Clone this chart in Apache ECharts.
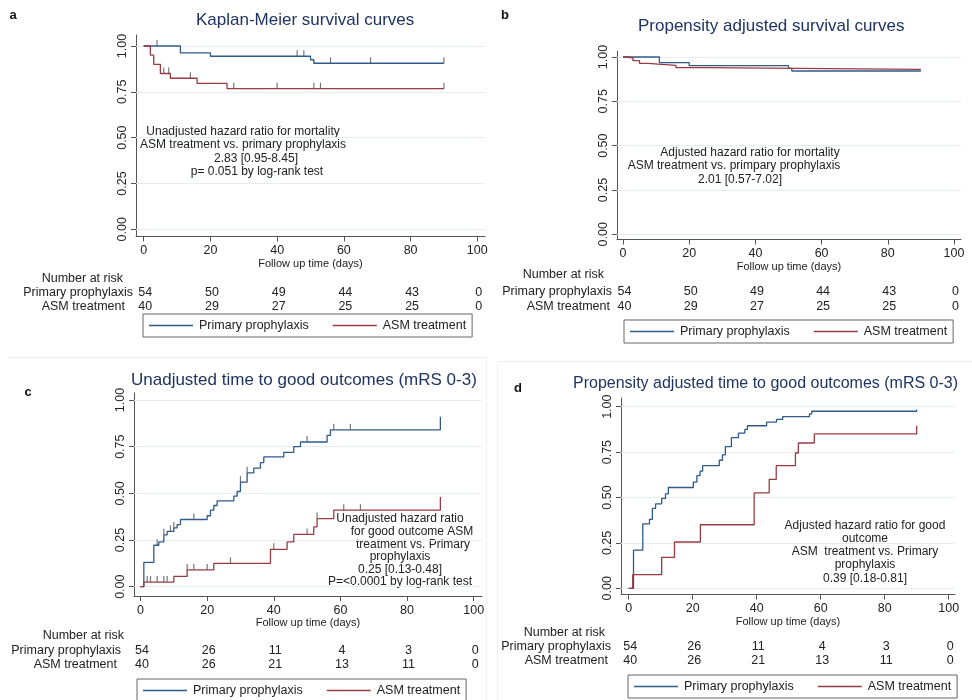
<!DOCTYPE html>
<html><head><meta charset="utf-8">
<script src="https://cdn.jsdelivr.net/npm/echarts@6/dist/echarts.min.js"></script>
<style>html,body{margin:0;padding:0;background:#fff}#c{width:972px;height:700px}</style>
</head><body><div id="c"></div>
<script>
// ---------------- DATA ----------------
const seriesNames = ['Primary prophylaxis', 'ASM treatment'];
const xTickDays = [0, 20, 40, 60, 80, 100];
const yTickVals = [0, 0.25, 0.5, 0.75, 1];
const riskTimes = [0, 20, 40, 60, 80, 100];

// a: Kaplan-Meier survival
const aPrimT = [0, 11, 20, 50, 51, 90];
const aPrimS = [1, 0.963, 0.944, 0.925, 0.906, 0.906];
const aPrimCens = [4, 46, 48, 56, 68, 90];
const aAsmT = [0, 2, 3, 5, 8, 16, 25, 90];
const aAsmS = [1, 0.95, 0.90, 0.85, 0.824, 0.796, 0.767, 0.767];
const aAsmCens = [6, 7.5, 14, 27, 40, 51, 53, 90];

// b: propensity adjusted survival
const bPrimT = [0, 11, 20, 50, 51, 90];
const bPrimS = [1, 0.968, 0.951, 0.936, 0.921, 0.921];
const bAsmT = [0, 1.5, 3, 5, 7.5, 16, 25, 90];
const bAsmS = [1, 0.993, 0.979, 0.964, 0.953, 0.940, 0.930, 0.930];

// c: unadjusted time to good outcome
const cPrimT = [0, 1, 4, 5.5, 7, 8, 10, 11, 12, 20, 21, 22, 23, 28, 29, 30, 32, 34, 36, 37, 43, 46, 48, 56, 57, 90, 90];
const cPrimS = [0, 0.13, 0.222, 0.24, 0.278, 0.296, 0.315, 0.333, 0.36, 0.38, 0.41, 0.435, 0.46, 0.485, 0.51, 0.56, 0.61, 0.635, 0.665, 0.695, 0.72, 0.75, 0.775, 0.81, 0.84, 0.84, 0.91];
const cPrimCens = [5, 7, 9, 10, 16, 30, 32, 50, 58, 63];
const cAsmT = [0, 1, 10, 14, 22, 39, 44, 46, 52, 53, 58, 90, 90];
const cAsmS = [0, 0.025, 0.055, 0.09, 0.125, 0.20, 0.24, 0.28, 0.32, 0.365, 0.41, 0.41, 0.48];
const cAsmCens = [2, 3, 5, 7, 8, 14, 16, 20, 27, 40, 50, 53, 61, 66];

// d: propensity adjusted time to good outcome
const dPrimT = [0, 1.5, 4.4, 6.5, 7.4, 8.4, 10.3, 11.5, 12.4, 20.2, 21.3, 22.3, 23.1, 28.3, 29.3, 30.2, 32.1, 34.3, 36.3, 37.1, 43.1, 46.2, 48.1, 56.5, 57.2, 90, 90];
const dPrimS = [0, 0.21, 0.355, 0.38, 0.44, 0.465, 0.495, 0.52, 0.555, 0.585, 0.62, 0.645, 0.675, 0.705, 0.735, 0.78, 0.83, 0.855, 0.875, 0.895, 0.915, 0.93, 0.945, 0.96, 0.975, 0.975, 0.985];
const dAsmT = [0, 1.25, 10.3, 14.3, 22.4, 39.2, 43.9, 46.1, 52.1, 53, 58, 90, 90];
const dAsmS = [0, 0.075, 0.17, 0.255, 0.35, 0.525, 0.60, 0.675, 0.745, 0.80, 0.85, 0.85, 0.895];

// number at risk
const mortRiskPrim = [54, 50, 49, 44, 43, 0];
const mortRiskAsm = [40, 29, 27, 25, 25, 0];
const goodRiskPrim = [54, 26, 11, 4, 3, 0];
const goodRiskAsm = [40, 26, 21, 13, 11, 0];

// texts
const panelLetters = ['a', 'b', 'c', 'd'];
const panelTitles = ['Kaplan-Meier survival curves', 'Propensity adjusted survival curves',
  'Unadjusted time to good outcomes (mRS 0-3)', 'Propensity adjusted time to good outcomes (mRS 0-3)'];
const notesA = ['Unadjusted hazard ratio for mortality', 'ASM treatment vs. primary prophylaxis', '2.83 [0.95-8.45]', 'p= 0.051 by log-rank test'];
const notesB = ['Adjusted hazard ratio for mortality', 'ASM treatment vs. primpary prophylaxis', '2.01 [0.57-7.02]'];
const notesC = ['Unadjusted hazard ratio', 'for good outcome ASM', 'treatment vs. Primary', 'prophylaxis', '0.25 [0.13-0.48]', 'P=<0.0001 by log-rank test'];
const notesD = ['Adjusted hazard ratio for good', 'outcome', 'ASM  treatment vs. Primary', 'prophylaxis', '0.39 [0.18-0.81]'];
const xAxisTitle = 'Follow up time (days)';
const riskHeader = 'Number at risk';

// ---------------- LAYOUT / STYLE ----------------
const FONT = 'Liberation Sans, Arial, Helvetica, sans-serif';
const BLUE = '#2f5a8a', RED = '#9a3a41', AXIS = '#555', GRIDC = '#e4edf2', TITLEC = '#1f3463';
const P = [
  {L:136, x0:143.7, x100:477.3, Rt:485, top:35,  y1:46,    y0:229.3, B:236.5},
  {L:617, x0:623,   x100:954,   Rt:961, top:51,  y1:57,    y0:234.3, B:239.5},
  {L:134, x0:140.5, x100:473.7, Rt:482, top:393, y1:400,   y0:586.7, B:596},
  {L:621, x0:628.7, x100:948.7, Rt:955, top:398, y1:406.7, y0:588.3, B:594.5}
];
const titlePos = [[196, 12], [638, 18], [131, 372], [573, 376]];
const titleSize = [17, 17, 17, 16];
const letterPos = [[13, 15], [505, 15], [28, 392], [518, 388]];
const legendPos = [[143, 314], [624, 320], [137, 679], [628, 675]];
const notePos = [
  {lines: notesA, xs: [243, 243, 256, 257], ys: [132, 145, 159, 172]},
  {lines: notesB, xs: [750, 734, 740], ys: [153, 166, 180]},
  {lines: notesC, xs: [400, 412, 413, 400, 400, 400], ys: [519, 532, 545, 557, 570, 582]},
  {lines: notesD, xs: [865, 865, 865, 865, 865], ys: [526, 539, 552, 565, 579]}
];
const riskLayout = [
  {prim: mortRiskPrim, asm: mortRiskAsm, hdr:[123, 279], pl:[133, 293], al:[125, 307]},
  {prim: mortRiskPrim, asm: mortRiskAsm, hdr:[604, 275], pl:[612, 292], al:[610, 307]},
  {prim: goodRiskPrim, asm: goodRiskAsm, hdr:[124, 636], pl:[121, 651], al:[117, 665]},
  {prim: goodRiskPrim, asm: goodRiskAsm, hdr:[605, 633], pl:[611, 647], al:[608, 661]}
];

const curves = [
  {pT:aPrimT, pS:aPrimS, pC:aPrimCens, aT:aAsmT, aS:aAsmS, aC:aAsmCens},
  {pT:bPrimT, pS:bPrimS, pC:[], aT:bAsmT, aS:bAsmS, aC:[]},
  {pT:cPrimT, pS:cPrimS, pC:cPrimCens, aT:cAsmT, aS:cAsmS, aC:cAsmCens},
  {pT:dPrimT, pS:dPrimS, pC:[], aT:dAsmT, aS:dAsmS, aC:[]}
];

function pairs(T, S) { return T.map((t, i) => [t, S[i]]); }
function valueAt(T, S, t) { let v = S[0]; for (let i = 0; i < T.length; i++) { if (T[i] <= t) v = S[i]; } return v; }

const grids = [], xAxes = [], yAxes = [], series = [], titles = [], legends = [];
P.forEach((p, i) => {
  const sx = (p.x100 - p.x0) / 100, sy = (p.y0 - p.y1);
  grids.push({left: p.L, top: p.top, width: p.Rt - p.L, height: p.B - p.top});
  xAxes.push({
    gridIndex: i, type: 'value',
    min: -(p.x0 - p.L) / sx, max: 100 + (p.Rt - p.x100) / sx,
    axisLine: {show: true, onZero: false, lineStyle: {color: AXIS, width: 1}},
    axisTick: {show: true, customValues: xTickDays, length: 5, lineStyle: {color: AXIS}},
    axisLabel: {customValues: xTickDays, margin: 8, fontSize: 12.5, color: '#222', fontFamily: FONT},
    splitLine: {show: false},
    name: xAxisTitle, nameLocation: 'middle', nameGap: 21,
    nameTextStyle: {fontSize: 11, color: '#222', fontFamily: FONT}
  });
  yAxes.push({
    gridIndex: i, type: 'value',
    min: -(p.B - p.y0) / sy, max: 1 + (p.y1 - p.top) / sy,
    axisLine: {show: true, onZero: false, lineStyle: {color: AXIS, width: 1}},
    axisTick: {show: true, customValues: yTickVals, length: 5, lineStyle: {color: AXIS}},
    axisLabel: {customValues: yTickVals, rotate: 90, margin: 7, fontSize: 12.5, color: '#222', fontFamily: FONT,
      formatter: v => v.toFixed(2)},
    splitLine: {show: false}
  });
  const c = curves[i];
  series.push({
    name: seriesNames[0], type: 'line', xAxisIndex: i, yAxisIndex: i, step: 'end',
    data: pairs(c.pT, c.pS), showSymbol: false, symbol: 'none', color: BLUE,
    itemStyle: {color: BLUE}, lineStyle: {color: BLUE, width: 1.3}, animation: false, z: 3,
    markLine: {silent: true, symbol: 'none', animation: false, label: {show: false},
      lineStyle: {color: GRIDC, width: 1, type: 'solid'}, z: 1,
      data: yTickVals.map(v => ({yAxis: v}))}
  });
  series.push({
    name: seriesNames[1], type: 'line', xAxisIndex: i, yAxisIndex: i, step: 'end',
    data: pairs(c.aT, c.aS), showSymbol: false, symbol: 'none', color: RED,
    itemStyle: {color: RED}, lineStyle: {color: RED, width: 1.3}, animation: false, z: 4
  });
  const cens = c.pC.map(t => [t, valueAt(c.pT, c.pS, t)]).concat(c.aC.map(t => [t, valueAt(c.aT, c.aS, t)]));
  if (cens.length) {
    series.push({
      name: 'censored', type: 'scatter', xAxisIndex: i, yAxisIndex: i, data: cens,
      symbol: 'rect', symbolSize: [1.2, 6], symbolOffset: [0, -3],
      itemStyle: {color: '#555'}, animation: false, silent: true, z: 5
    });
  }
  titles.push({text: panelTitles[i], left: titlePos[i][0], top: titlePos[i][1], padding: 0,
    textStyle: {fontSize: titleSize[i], fontWeight: 'normal', color: TITLEC, fontFamily: FONT}});
  legends.push({
    data: seriesNames, left: legendPos[i][0], top: legendPos[i][1], orient: 'horizontal',
    icon: 'rect', itemWidth: 44, itemHeight: 1.5, itemGap: 24, padding: [5, 6, 5, 6],
    borderColor: '#666', borderWidth: 1, selectedMode: false,
    textStyle: {fontSize: 12.5, color: '#222', fontFamily: FONT, padding: [0, 0, 0, 1]}
  });
});

const chart = echarts.init(document.getElementById('c'), null, {renderer: 'canvas'});
chart.setOption({
  backgroundColor: '#fff', animation: false,
  title: titles, legend: legends, grid: grids, xAxis: xAxes, yAxis: yAxes, series: series
});

// graphic: letters, notes, risk tables, faint panel frames
const g = [];
g.push({type: 'line', shape: {x1: 8, y1: 357.5, x2: 486, y2: 357.5}, style: {stroke: '#eeeeee', lineWidth: 1}, silent: true});
g.push({type: 'line', shape: {x1: 486.5, y1: 357, x2: 486.5, y2: 700}, style: {stroke: '#f0f0f0', lineWidth: 1}, silent: true});
g.push({type: 'line', shape: {x1: 497, y1: 361.5, x2: 972, y2: 361.5}, style: {stroke: '#eeeeee', lineWidth: 1}, silent: true});
g.push({type: 'line', shape: {x1: 497.5, y1: 361, x2: 497.5, y2: 700}, style: {stroke: '#f0f0f0', lineWidth: 1}, silent: true});
panelLetters.forEach((l, i) => g.push({type: 'text', x: letterPos[i][0], y: letterPos[i][1],
  style: {text: l, font: 'bold 13px ' + FONT, fill: '#111', align: 'center', verticalAlign: 'middle'}}));
notePos.forEach(n => n.lines.forEach((t, k) => g.push({type: 'text', x: n.xs[k], y: n.ys[k],
  style: {text: t, font: '12px ' + FONT, fill: '#222', align: 'center', verticalAlign: 'middle'}})));
riskLayout.forEach((r, i) => {
  const tx = (x, y, t, al) => g.push({type: 'text', x: x, y: y,
    style: {text: String(t), font: '12.5px ' + FONT, fill: '#222', align: al, verticalAlign: 'middle'}});
  tx(r.hdr[0], r.hdr[1], riskHeader, 'right');
  tx(r.pl[0], r.pl[1], seriesNames[0], 'right');
  tx(r.al[0], r.al[1], seriesNames[1], 'right');
  riskTimes.forEach((t, k) => {
    const px = chart.convertToPixel({xAxisIndex: i}, t) + 1.5;
    tx(px, r.pl[1], r.prim[k], 'center');
    tx(px, r.al[1], r.asm[k], 'center');
  });
});
chart.setOption({graphic: g});
</script></body></html>
